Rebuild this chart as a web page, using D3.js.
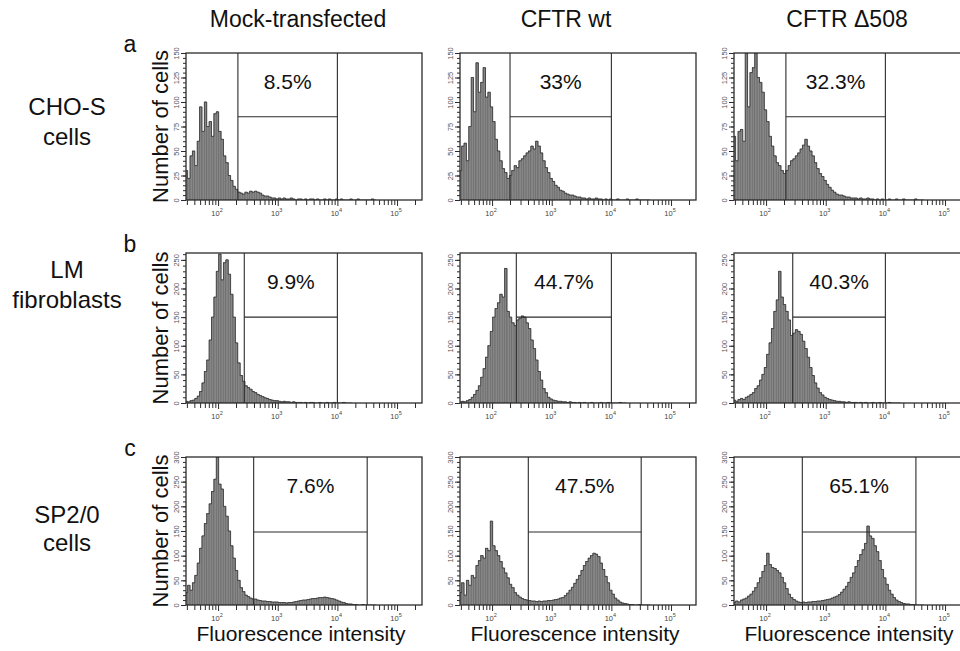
<!DOCTYPE html>
<html><head><meta charset="utf-8">
<script src="https://cdn.jsdelivr.net/npm/d3@7"></script>
<style>body{margin:0;background:#fff} text{font-family:"Liberation Sans",Arial,Helvetica,sans-serif}</style>
</head><body>
<svg id="c" width="960" height="651"></svg>
<script>
// ---------- data ----------
const columns = ["Mock-transfected", "CFTR wt", "CFTR \u0394508"];
const rowLetters = ["a", "b", "c"];
const rowLabels = [["CHO-S", "cells"], ["LM", "fibroblasts"], ["SP2/0", "cells"]];
const yMax = [150, 262, 300];
const yTickLabels = [[0, 25, 50, 75, 100, 125, 150], [0, 50, 100, 150, 200, 250], [0, 50, 100, 150, 200, 250, 300]];
const yMinorStep = [5, 10, 10];
const xDecades = [2, 3, 4, 5];
const xDomain = [29, 262144];
const percents = [["8.5%", "33%", "32.3%"], ["9.9%", "44.7%", "40.3%"], ["7.6%", "47.5%", "65.1%"]];
const gateLow = [[215, 200, 215], [275, 255, 280], [395, 405, 405]];
const gateHigh = [[10000, 10000, 10000], [10000, 10000, 10000], [31600, 31600, 32500]];
const gateLevel = [85, 150, 148];
// histogram bins: log10 start and width
const binStartLog = 1.45, binStepLog = 0.04;

const hist_a1 = [30,22,45,50,35,60,95,70,100,75, 80,65,88,90,70,62,45,38,25,20,
  14,11,8,7,6,8,7,9,8,9, 8,7,5,4,4,3,2,2,1,2, 1,2,1,1,2,1,0,1,1,0, 1,0,1,1,0,1,0,0,1,0,
  1,0,0,1,0,1,0,0,0,1, 0,0,1,0,0,0,0,0,1,0];
const hist_a2 = [30,55,58,40,75,125,90,140,110,120, 135,105,110,95,80,62,50,40,32,28,
  22,25,30,35,33,40,42,45,48,50, 55,52,60,55,48,40,33,28,22,19, 15,13,10,9,7,6,5,5,4,3,
  3,2,2,1,2,1,1,2,1,1, 0,1,0,1,0,0,1,0,0,0, 1,0,0,0,1,0,0,0,0,0];
const hist_a3 = [65,40,70,72,60,150,95,130,135,150, 125,120,110,92,80,65,55,45,38,35,
  30,27,30,35,40,42,45,48,52,56, 62,55,50,45,38,32,27,24,20,16, 13,10,8,6,5,5,4,3,3,2,
  2,2,1,2,1,1,2,1,1,0, 1,0,1,0,0,1,0,0,1,0, 0,1,0,0,0,0,1,0,0,0];
const hist_b1 = [3,2,4,5,8,12,20,35,55,75, 110,150,185,230,260,215,245,250,225,190,
  150,105,70,48,38,30,27,24,20,18, 15,13,11,9,8,6,5,4,4,3, 2,3,2,2,1,2,1,1,1,0,
  1,0,1,1,0,0,1,0,0,1, 0,0,1,0,0,0,1,0,0,0];
const hist_b2 = [2,3,2,4,6,10,15,22,30,45, 60,80,100,125,150,165,175,190,185,235,
  160,150,140,135,145,148,152,150,140,130, 110,95,75,55,40,25,18,10,7,5, 4,3,3,2,2,1,2,1,1,0,
  1,0,1,0,0,1,0,0,0,1, 0,0,1,0,0,0,0,1,0,0];
const hist_b3 = [5,3,6,8,6,10,12,15,18,25, 30,40,50,62,85,105,130,160,180,230,
  185,172,160,145,118,122,128,125,120,108, 95,80,62,48,35,26,18,14,10,8, 6,5,4,3,3,2,2,1,2,1,
  1,1,0,1,0,1,0,0,1,0, 0,1,0,0,0,1,0,0,0,0];
const hist_c1 = [25,40,30,45,60,85,115,140,165,185, 205,230,255,300,245,235,200,180,150,120,
  95,70,50,35,27,20,17,14,12,12, 10,9,8,8,7,7,6,6,6,5, 5,5,4,5,5,6,7,8,9,10,
  10,11,12,13,13,14,15,15,16,15, 14,13,12,10,8,6,5,3,2,2, 1,1,0,0,1,0,0,0,0,0];
const hist_c2 = [25,45,20,50,40,60,55,80,90,100, 95,115,110,170,120,110,100,88,75,65,
  55,42,35,25,20,16,13,11,10,9, 8,8,7,8,7,8,8,9,9,10, 11,12,14,15,19,24,30,36,44,52,
  60,70,80,88,95,100,105,103,98,85, 72,58,45,30,22,14,10,6,4,3, 2,1,1,0,0,1,0,0,0,0];
const hist_c3 = [5,8,6,10,12,14,18,22,28,35, 45,55,68,80,105,82,76,74,70,65,
  56,45,33,22,15,11,8,6,5,6, 5,6,6,7,7,8,8,9,10,11, 12,14,16,18,21,26,32,38,46,56,
  65,78,90,102,112,125,160,140,135,120, 108,90,72,55,42,30,22,15,10,7, 5,3,2,2,1,1,0,0,0,0];

// ---------- layout ----------
const colLeft = [186, 460, 734], panelW = 236;
const rowTop = [53, 253, 457], rowBottom = [200, 403, 605];
const headerX = [298, 566, 847];
const rowLabelY = [[115, 145], [278, 308], [523, 551]];
const hists = [[hist_a1, hist_a2, hist_a3], [hist_b1, hist_b2, hist_b3], [hist_c1, hist_c2, hist_c3]];

const svg = d3.select("#c");
const defs = svg.append("defs");
const ink = "#2b2b2b";

columns.forEach((t, c) => {
  svg.append("text").attr("x", headerX[c]).attr("y", 27).attr("text-anchor", "middle")
    .attr("font-size", 23).attr("fill", "#111").text(t);
});

rowLetters.forEach((t, r) => {
  svg.append("text").attr("x", 130).attr("y", rowTop[r] - 1).attr("text-anchor", "middle")
    .attr("font-size", 23).attr("fill", "#111").text(t);
  rowLabels[r].forEach((line, k) => {
    svg.append("text").attr("x", 67).attr("y", rowLabelY[r][k]).attr("text-anchor", "middle")
      .attr("font-size", 24).attr("fill", "#111").text(line);
  });
  svg.append("text").attr("transform", `translate(168,${(rowTop[r] + rowBottom[r]) / 2}) rotate(-90)`)
    .attr("text-anchor", "middle").attr("font-size", 22).attr("fill", "#111").text("Number of cells");
});

columns.forEach((t, c) => {
  svg.append("text").attr("x", colLeft[c] + panelW / 2 - 3).attr("y", 641).attr("text-anchor", "middle")
    .attr("font-size", 21).attr("fill", "#111").text("Fluorescence intensity");
});

for (let r = 0; r < 3; r++) {
  for (let c = 0; c < 3; c++) {
    const L = colLeft[c], T = rowTop[r], B = rowBottom[r];
    const x = d3.scaleLog().domain(xDomain).range([L, L + panelW]);
    const y = d3.scaleLinear().domain([0, yMax[r]]).range([B, T]);
    const g = svg.append("g");
    const clipId = `clip${r}${c}`;
    defs.append("clipPath").attr("id", clipId).append("rect")
      .attr("x", L).attr("y", T).attr("width", panelW).attr("height", B - T);

    const vals = hists[r][c];
    const bins = vals.map((v, i) => ({ x0: Math.pow(10, binStartLog + binStepLog * i), x1: Math.pow(10, binStartLog + binStepLog * (i + 1)), v }));
    const hg = g.append("g").attr("clip-path", `url(#${clipId})`);
    // bars give the spiky vertical texture
    hg.selectAll("rect").data(bins.filter(d => d.v > 0)).join("rect")
      .attr("x", d => x(d.x0)).attr("width", d => x(d.x1) - x(d.x0))
      .attr("y", d => y(d.v)).attr("height", d => B - y(d.v))
      .attr("fill", "#868686").attr("stroke", "#5a5a5a").attr("stroke-width", 0.45);
    const data = bins.map(d => ({ lx: d.x0, v: d.v }));
    data.push({ lx: bins[bins.length - 1].x1, v: 0 });
    const line = d3.line().x(d => x(d.lx)).y(d => y(d.v)).curve(d3.curveStepAfter);
    hg.append("path").datum(data).attr("d", line)
      .attr("fill", "none").attr("stroke", "#353535").attr("stroke-width", 0.8);

    // y axis minor + major
    const minor = d3.range(0, yMax[r] + 0.001, yMinorStep[r]);
    const ga = g.append("g").attr("transform", `translate(${L},0)`)
      .call(d3.axisLeft(y).tickValues(minor).tickSize(3).tickFormat(""));
    ga.select(".domain").remove();
    ga.selectAll("line").attr("stroke", ink);
    const gm = g.append("g").attr("transform", `translate(${L},0)`)
      .call(d3.axisLeft(y).tickValues(yTickLabels[r]).tickSize(5).tickFormat(d3.format("d")));
    gm.select(".domain").remove();
    gm.selectAll("line").attr("stroke", ink);
    gm.selectAll("text").attr("x", null).attr("dy", null).attr("transform", "translate(-7,0) rotate(-90)")
      .attr("text-anchor", "middle").attr("font-size", 7.5).attr("fill", "#555")
      .attr("font-family", "Liberation Sans, Arial, sans-serif");

    // x axis minor + major ticks
    const xMinor = [];
    for (let k = 1; k <= 5; k++) for (let m = 2; m <= 9; m++) {
      const v = m * Math.pow(10, k);
      if (v >= xDomain[0] && v <= xDomain[1]) xMinor.push(v);
    }
    const gx = g.append("g").attr("transform", `translate(0,${B})`)
      .call(d3.axisBottom(x).tickValues(xMinor).tickSize(5).tickFormat(""));
    gx.select(".domain").remove();
    gx.selectAll("line").attr("stroke", ink);
    const gX = g.append("g").attr("transform", `translate(0,${B})`)
      .call(d3.axisBottom(x).tickValues(xDecades.map(e => Math.pow(10, e))).tickSize(6).tickFormat(""));
    gX.select(".domain").remove();
    gX.selectAll("line").attr("stroke", ink);
    xDecades.forEach(e => {
      const t = g.append("text").attr("x", x(Math.pow(10, e)) - 1).attr("y", B + 16)
        .attr("text-anchor", "middle").attr("font-size", 7.5).attr("fill", "#444");
      t.append("tspan").text("10");
      t.append("tspan").attr("dy", -4).attr("font-size", 5.5).text(e);
    });

    // frame
    g.append("rect").attr("x", L).attr("y", T).attr("width", panelW).attr("height", B - T)
      .attr("fill", "none").attr("stroke", ink).attr("stroke-width", 1.3);

    // gate
    const gx1 = x(gateLow[r][c]), gx2 = x(gateHigh[r][c]), gy = y(gateLevel[r]);
    g.append("line").attr("x1", gx1).attr("x2", gx1).attr("y1", T).attr("y2", B).attr("stroke", ink).attr("stroke-width", 1.1);
    g.append("line").attr("x1", gx2).attr("x2", gx2).attr("y1", T).attr("y2", B).attr("stroke", ink).attr("stroke-width", 1.1);
    g.append("line").attr("x1", gx1).attr("x2", gx2).attr("y1", gy).attr("y2", gy).attr("stroke", ink).attr("stroke-width", 1.1);
    g.append("text").attr("x", (gx1 + gx2) / 2).attr("y", T + 36).attr("text-anchor", "middle")
      .attr("font-size", 21).attr("fill", "#111").text(percents[r][c]);
  }
}
</script>
</body></html>
